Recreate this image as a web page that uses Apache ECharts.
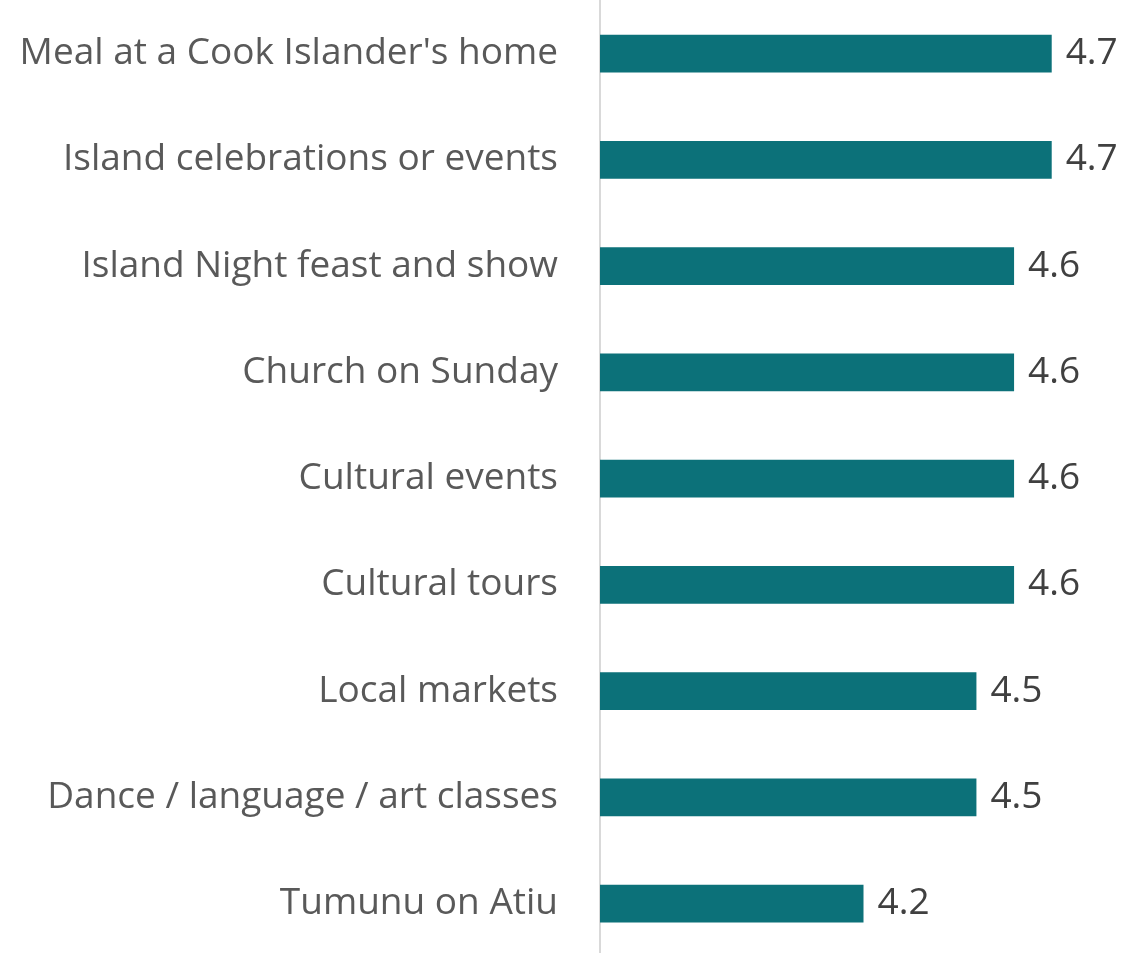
<!DOCTYPE html>
<html>
<head>
<meta charset="utf-8">
<script src="https://cdn.jsdelivr.net/npm/echarts@6/dist/echarts.min.js"></script>
<style>
  html, body { margin: 0; padding: 0; background: #fff; overflow: hidden; }
  #main { width: 1144px; height: 962px; }
</style>
</head>
<body>
<div id="main"></div>
<script>
// categories listed bottom to top (category axis on y starts from the bottom)
const categories = [
    'Tumunu on Atiu',
    'Dance / language / art classes',
    'Local markets',
    'Cultural tours',
    'Cultural events',
    'Church on Sunday',
    'Island Night feast and show',
    'Island celebrations or events',
    "Meal at a Cook Islander's home"
];
const ratings = [4.2, 4.5, 4.5, 4.6, 4.6, 4.6, 4.6, 4.7, 4.7];

document.addEventListener('DOMContentLoaded', function () {
    const font = '"Open Sans", sans-serif';

    let options = {
        animation: false,
        grid: {
            left: 600,
            top: 0.5,
            width: 527,
            height: 956.25,
            containLabel: false
        },
        xAxis: {
            type: 'value',
            min: 3.5,
            max: 4.9,
            show: false
        },
        yAxis: {
            type: 'category',
            data: categories,
            axisLine: { show: true, lineStyle: { color: '#D9D9D9', width: 2 } },
            axisTick: { show: false },
            axisLabel: {
                margin: 42,
                color: '#595959',
                fontSize: 37,
                fontFamily: font
            }
        },
        series: [{
            type: 'bar',
            data: ratings,
            barWidth: '35.4%',
            itemStyle: { color: '#0C7179' },
            label: {
                show: true,
                position: 'right',
                distance: 14,
                color: '#404040',
                fontSize: 37,
                fontFamily: font,
                formatter: (p) => p.value.toFixed(1)
            }
        }]
    };

    let myChart = echarts.init(document.getElementById('main'));
    myChart.setOption(options);
});
</script>
</body>
</html>
